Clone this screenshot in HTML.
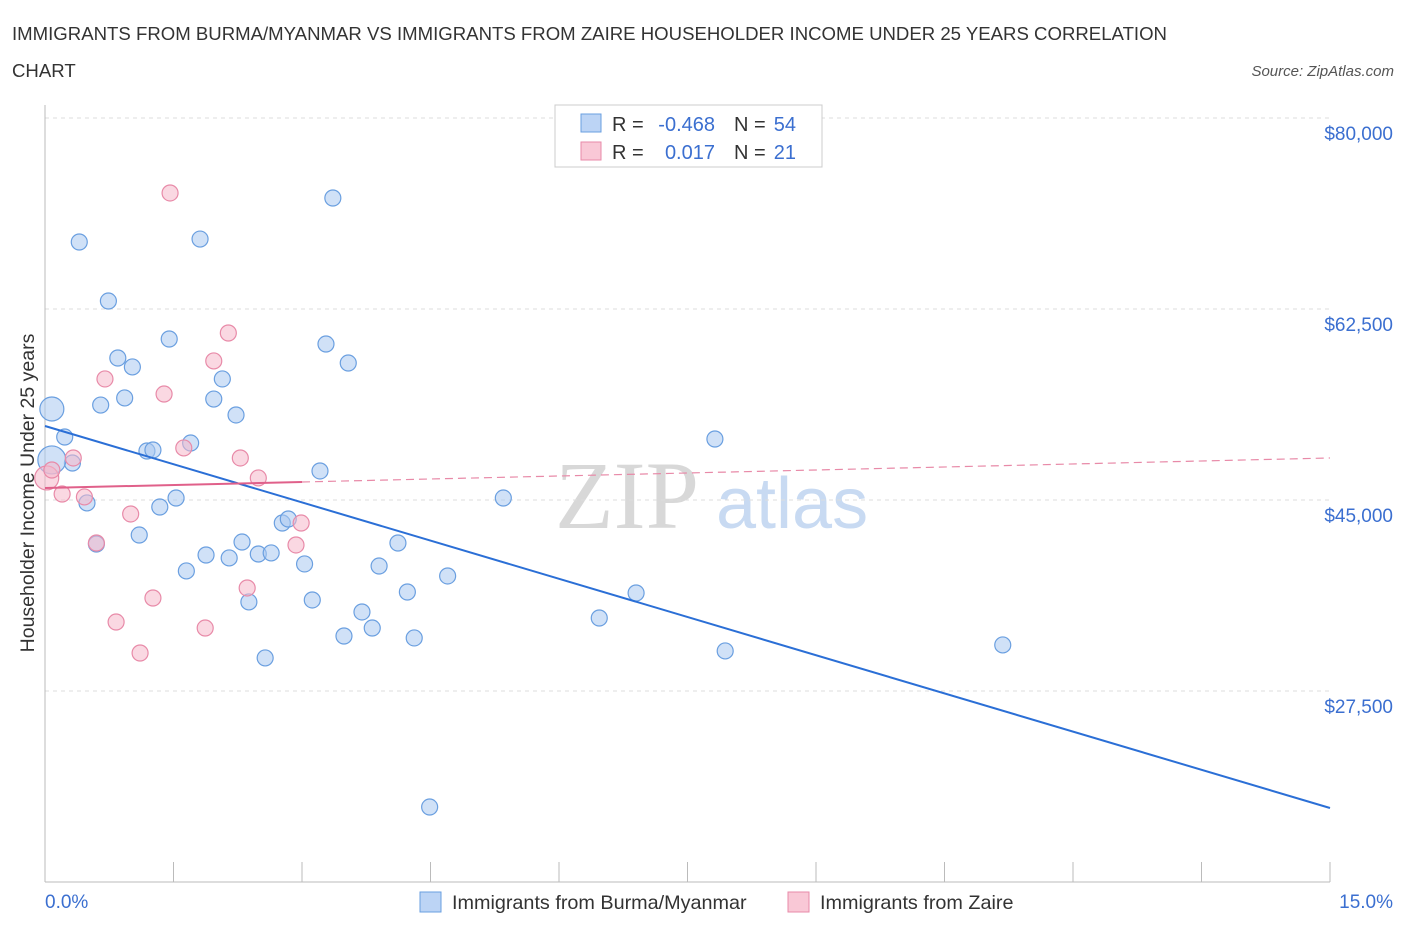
<!DOCTYPE html>
<html><head><meta charset="utf-8"><style>
body{margin:0;background:#fff;font-family:"Liberation Sans",sans-serif}
</style></head><body>
<svg id="chart" width="1406" height="930" xmlns="http://www.w3.org/2000/svg" font-family="Liberation Sans, sans-serif">
<text x="12" y="40" font-size="18.6" fill="#333">IMMIGRANTS FROM BURMA/MYANMAR VS IMMIGRANTS FROM ZAIRE HOUSEHOLDER INCOME UNDER 25 YEARS CORRELATION</text>
<text x="12" y="77" font-size="18.6" fill="#333">CHART</text>
<text x="1394" y="76" font-size="15" fill="#555" font-style="italic" text-anchor="end">Source: ZipAtlas.com</text>
<g>
<text x="555" y="528" font-size="96" font-family="Liberation Serif, serif" fill="#d8d8d8">ZIP</text>
<text x="716" y="528" font-size="72" fill="#c8daf2">atlas</text>
</g>
<g id="grid"></g>
<g id="axes"></g>
<g id="marks"></g>
<text transform="translate(34,493) rotate(-90)" font-size="19.5" fill="#333" text-anchor="middle">Householder Income Under 25 years</text>
<g>
<rect x="555" y="105" width="267" height="62" fill="#fff" stroke="#ccc"/>
<rect x="581" y="114" width="20" height="18" fill="#bcd4f5" stroke="#6a9fe0"/>
<rect x="581" y="142" width="20" height="18" fill="#f9c8d6" stroke="#e88aa8"/>
<text x="612" y="131" font-size="20" fill="#333">R =</text>
<text x="715" y="131" font-size="20" fill="#3b6fd0" text-anchor="end">-0.468</text>
<text x="734" y="131" font-size="20" fill="#333">N =</text>
<text x="796" y="131" font-size="20" fill="#3b6fd0" text-anchor="end">54</text>
<text x="612" y="159" font-size="20" fill="#333">R =</text>
<text x="715" y="159" font-size="20" fill="#3b6fd0" text-anchor="end">0.017</text>
<text x="734" y="159" font-size="20" fill="#333">N =</text>
<text x="796" y="159" font-size="20" fill="#3b6fd0" text-anchor="end">21</text>
</g>
<g>
<rect x="420" y="892" width="21" height="20" fill="#bcd4f5" stroke="#6a9fe0"/>
<text x="452" y="909" font-size="19.8" fill="#333">Immigrants from Burma/Myanmar</text>
<rect x="788" y="892" width="21" height="20" fill="#f9c8d6" stroke="#e88aa8"/>
<text x="820" y="909" font-size="19.8" fill="#333">Immigrants from Zaire</text>
</g>
</svg>
<script>
const yTicks=[80000,62500,45000,27500];
const yTickLabels=["$80,000","$62,500","$45,000","$27,500"];
const xTickVals=[0,1.5,3,4.5,6,7.5,9,10.5,12,13.5,15];
const blueX=[0.08,0.23,0.32,0.40,0.49,0.60,0.65,0.74,0.85,0.93,1.02,1.10,1.19,1.26,1.34,1.45,1.53,1.65,1.70,1.81,1.88,1.97,2.07,2.15,2.23,2.30,2.38,2.49,2.57,2.64,2.77,2.84,3.03,3.12,3.21,3.28,3.36,3.49,3.54,3.70,3.82,3.90,4.12,4.23,4.31,4.49,4.70,5.35,6.47,6.90,7.82,7.94,11.18,0.08];
const blueY=[53340,50770,48390,68640,44730,40970,53700,63230,58010,54350,57190,41790,49490,49580,44360,59750,45180,38500,50220,68910,39960,54250,56090,39690,52790,41150,35660,40050,30530,40150,42890,43260,39140,35840,47660,59290,72670,32540,57550,34740,33270,38950,41060,36570,32360,16870,38040,45180,34190,36480,50590,31170,31720,48670];
const blueR=[12,8,8,8,8,8,8,8,8,8,8,8,8,8,8,8,8,8,8,8,8,8,8,8,8,8,8,8,8,8,8,8,8,8,8,8,8,8,8,8,8,8,8,8,8,8,8,8,8,8,8,8,8,14];
const pinkX=[0.02,0.08,0.20,0.33,0.46,0.60,0.70,0.83,1.00,1.11,1.26,1.39,1.46,1.62,1.87,1.97,2.14,2.28,2.36,2.49,2.93,2.99];
const pinkY=[47020,47750,45550,48850,45280,41060,56090,33820,43720,30980,36020,54710,73130,49770,33270,57740,60300,48850,36940,47020,40880,42890];
const pinkR=[12,8,8,8,8,8,8,8,8,8,8,8,8,8,8,8,8,8,8,8,8,8];
const blueTrend=[51780,16780];
const pinkTrend=[46100,48850];
const pinkSolidEnd=3.0;
const NS="http://www.w3.org/2000/svg";
const X0=45,X1=1330,Y80=118,PX=191/17500;
const sx=v=>X0+(v/15)*(X1-X0);
const sy=v=>Y80+(80000-v)*PX;
function mk(tag,attrs,parent){const e=document.createElementNS(NS,tag);for(const k in attrs)e.setAttribute(k,attrs[k]);parent.appendChild(e);return e;}
const grid=document.getElementById('grid'),axes=document.getElementById('axes'),marks=document.getElementById('marks');
yTicks.forEach((t,i)=>{
 const l=mk('line',{x1:X0,x2:X1,y1:sy(t),y2:sy(t),stroke:'#ddd','stroke-dasharray':'4,4'},grid);
 
 
 const tx=mk('text',{x:1393,y:sy(t)+22,'font-size':19,fill:'#3b6fd0','text-anchor':'end'},axes);
 tx.textContent=yTickLabels[i];
 
 
});
const ya=mk('line',{x1:X0,x2:X0,y1:105,y2:882,stroke:'#bbb'},axes);


const xa=mk('line',{x1:X0,x2:X1,y1:882,y2:882,stroke:'#bbb'},axes);


xTickVals.forEach(v=>{
 const t=mk('line',{x1:sx(v),x2:sx(v),y1:862,y2:882,stroke:'#bbb'},axes);
 
 
});
const xl0=mk('text',{x:45,y:908,'font-size':19,fill:'#3b6fd0'},axes);xl0.textContent='0.0%';


const xl1=mk('text',{x:1393,y:908,'font-size':19,fill:'#3b6fd0','text-anchor':'end'},axes);xl1.textContent='15.0%';


blueX.forEach((v,i)=>{
 const c=mk('circle',{cx:sx(v),cy:sy(blueY[i]),r:blueR[i],fill:'rgba(169,200,240,0.55)',stroke:'#6a9fe0','stroke-width':1.2},marks);
 
 
});
pinkX.forEach((v,i)=>{
 const c=mk('circle',{cx:sx(v),cy:sy(pinkY[i]),r:pinkR[i],fill:'rgba(245,184,203,0.55)',stroke:'#e88aa8','stroke-width':1.2},marks);
 
 
});
const bt=mk('line',{x1:sx(0),y1:sy(blueTrend[0]),x2:sx(15),y2:sy(blueTrend[1]),stroke:'#2b6fd6','stroke-width':2},marks);


const pAt=x=>pinkTrend[0]+(pinkTrend[1]-pinkTrend[0])*x/15;
const pd=mk('line',{x1:sx(pinkSolidEnd),y1:sy(pAt(pinkSolidEnd)),x2:sx(15),y2:sy(pinkTrend[1]),stroke:'#e88aa8','stroke-width':1.2,'stroke-dasharray':'8,5'},marks);


const ps=mk('line',{x1:sx(0),y1:sy(pinkTrend[0]),x2:sx(pinkSolidEnd),y2:sy(pAt(pinkSolidEnd)),stroke:'#e0608a','stroke-width':2},marks);


</script>
</body></html>
